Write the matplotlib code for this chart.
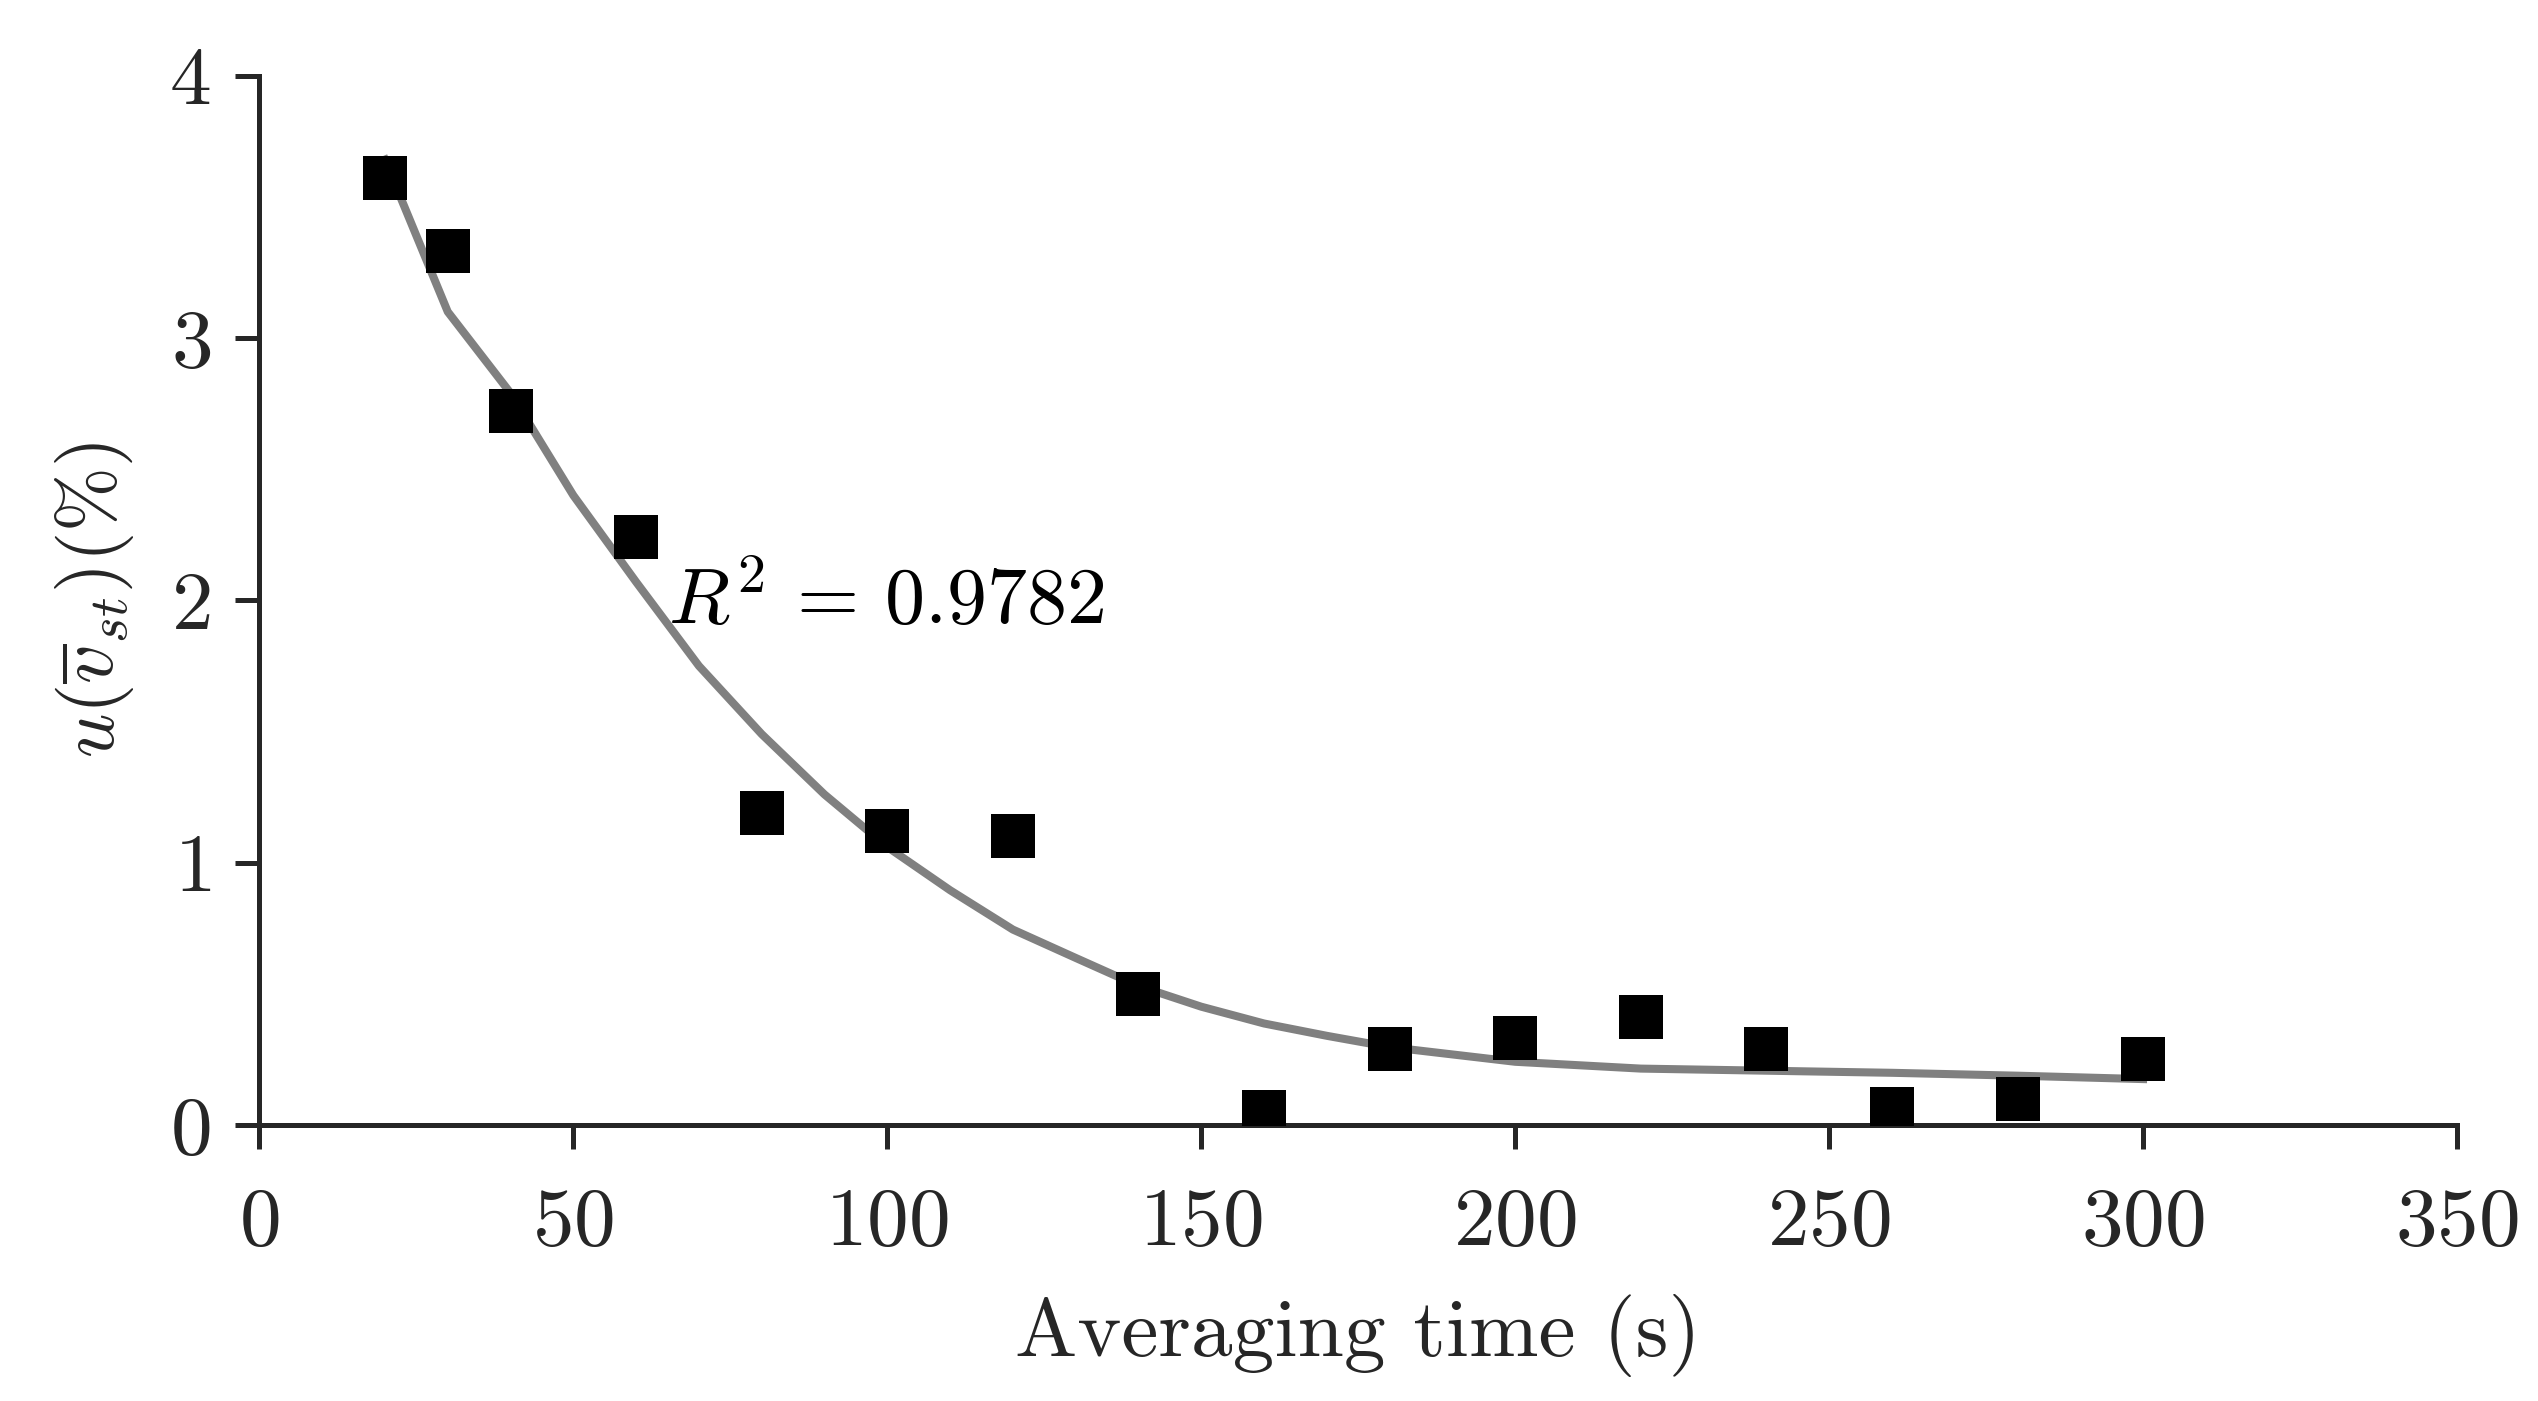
import numpy as np
import matplotlib
matplotlib.use("Agg")
import matplotlib.pyplot as plt

plt.rcParams['font.family'] = 'serif'
plt.rcParams['font.serif'] = ['cmr10']
plt.rcParams['mathtext.fontset'] = 'cm'
plt.rcParams['axes.unicode_minus'] = False
plt.rcParams['axes.formatter.use_mathtext'] = True

# measured points
avg_time = [20, 30, 40, 60, 80, 100, 120, 140, 160, 180, 200, 220, 240, 260, 280, 300]
uncert = [3.61, 3.33, 2.72, 2.24, 1.19, 1.12, 1.10, 0.50, 0.05, 0.29, 0.33, 0.41, 0.29, 0.06, 0.10, 0.25]

# fitted trend
fit_time = [20, 30, 40, 50, 60, 70, 80, 90, 100, 110, 120, 130, 140, 150, 160,
            170, 180, 200, 220, 240, 260, 280, 300]
fit_vals = [3.68, 3.10, 2.79, 2.40, 2.07, 1.75, 1.49, 1.26, 1.06, 0.895, 0.745, 0.637, 0.53,
            0.451, 0.387, 0.34, 0.297, 0.241, 0.215, 0.207, 0.199, 0.188, 0.175]

r2_text = r'$R^2\,=\,0.9782$'

fig = plt.figure(figsize=(12.69, 7.005), dpi=200)
ax = fig.add_axes([0.1022, 0.197, 0.8659, 0.749])

ax.plot(fit_time, fit_vals, color='#808080', lw=2.9, zorder=2)
ax.plot(avg_time, uncert, ls='none', marker='s', ms=16, mew=0, color='black', zorder=3)

ax.text(65, 1.91, r2_text, fontsize=28.8, color='black')

ax.set_xlim(0, 350)
ax.set_ylim(0, 4)
ax.set_xticks(np.arange(0, 351, 50))
ax.set_yticks(np.arange(0, 5, 1))

for s in ['top', 'right']:
    ax.spines[s].set_visible(False)
for s in ['left', 'bottom']:
    ax.spines[s].set_linewidth(1.8)
    ax.spines[s].set_color('#262626')
ax.tick_params(direction='out', length=8.5, width=1.8, color='#262626',
               labelsize=30, labelcolor='#262626')
ax.tick_params(axis='x', pad=14)
ax.tick_params(axis='y', pad=9)

ax.set_xlabel('Averaging time (s)', fontsize=30, color='#262626', labelpad=12)
ax.set_ylabel(r'$u(\overline{v}_{st})(\%)$', fontsize=28, color='#262626', labelpad=12)

fig.savefig('out.png', dpi=200)
